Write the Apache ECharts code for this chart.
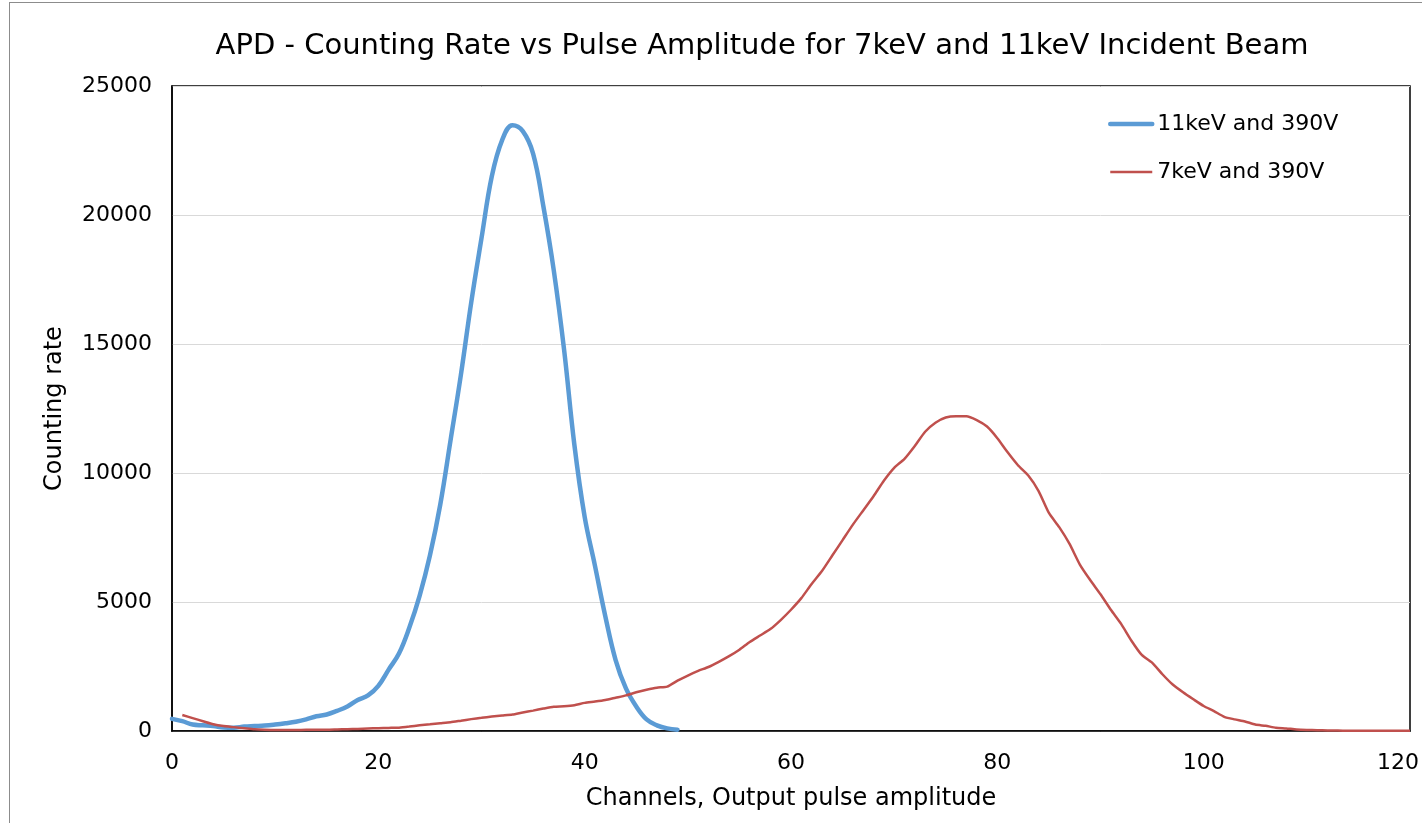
<!DOCTYPE html>
<html>
<head>
<meta charset="utf-8">
<script src="https://cdn.jsdelivr.net/npm/echarts@6/dist/echarts.min.js"></script>
<style>
  html, body { margin: 0; padding: 0; background: #fff; }
  #frame { position: absolute; left: 9px; top: 2px; width: 1413px; height: 821px;
           border-top: 1px solid #8c8c8c; border-left: 1px solid #8c8c8c; box-sizing: border-box; }
  #chart { position: absolute; left: 0; top: 0; width: 1422px; height: 823px; }
</style>
</head>
<body>
<div id="frame"></div>
<div id="chart"></div>
<script>
  // 11keV, channels 0..49
  const start11 = 0
  const rate11 = [
    470, 380, 250, 220, 190, 140, 130, 170, 190, 210,
    250, 300, 360, 450, 570, 640, 780, 950, 1200, 1380,
    1750, 2380, 3000, 4000, 5240, 6800, 8770, 11270, 13800, 16600,
    19100, 21500, 22900, 23480, 23250, 22380, 20330, 17870, 14800, 11100,
    8300, 6400, 4450, 2750, 1650, 950, 450, 220, 100, 50
  ]
  // 7keV, channels 1..120
  const start7 = 1
  const rate7 = [
    620, 500, 380, 260, 190, 150, 110, 70, 50, 40,
    40, 40, 45, 50, 50, 60, 70, 80, 95, 110,
    120, 130, 170, 220, 260, 300, 340, 400, 460, 510,
    560, 600, 640, 720, 790, 870, 940, 960, 1000, 1090,
    1140, 1200, 1290, 1380, 1500, 1600, 1680, 1720, 1950, 2150,
    2330, 2480, 2680, 2900, 3150, 3450, 3700, 3950, 4300, 4700,
    5150, 5700, 6200, 6800, 7400, 8000, 8550, 9100, 9700, 10200,
    10550, 11050, 11600, 11950, 12150, 12200, 12200, 12050, 11800, 11350,
    10800, 10300, 9900, 9300, 8450, 7900, 7250, 6450, 5850, 5300,
    4700, 4150, 3500, 2950, 2650, 2200, 1800, 1500, 1230, 970,
    770, 550, 450, 370, 250, 200, 130, 100, 60, 40,
    30, 20, 15, 10, 10, 5, 5, 5, 5, 5
  ]
  const xTicks = [0, 20, 40, 60, 80, 100, 120]
  const yTicks = [0, 5000, 10000, 15000, 20000, 25000]

  const font = 'Verdana, "DejaVu Sans", sans-serif'

  function toPairs(start, values) {
    return values.map((v, i) => [start + i, v])
  }

  const xMax = xTicks[xTicks.length - 1]

  const chart = echarts.init(document.getElementById('chart'))
  const option = {
    animation: false,
    textStyle: {fontFamily: font},
    title: {
      text: 'APD - Counting Rate vs Pulse Amplitude for 7keV and 11keV Incident Beam',
      left: 757,
      top: 27,
      textAlign: 'center',
      textStyle: {fontFamily: font, fontSize: 29, fontWeight: 'normal', color: '#000'}
    },
    grid: {
      left: 172,
      right: 12,
      top: 86,
      bottom: 92,
      outerBoundsMode: 'none',
      show: true,
      borderColor: '#000',
      borderWidth: 1.5
    },
    legend: {
      orient: 'vertical',
      left: 1108,
      top: 113,
      padding: 0,
      itemGap: 26,
      itemWidth: 42,
      itemHeight: 4,
      itemStyle: {opacity: 0},
      textStyle: {fontFamily: font, fontSize: 22, color: '#000'},
      data: [
        {name: '11keV and 390V', lineStyle: {width: 4.5, cap: 'round'}},
        {name: '7keV and 390V', lineStyle: {width: 2.5}}
      ]
    },
    xAxis: {
      type: 'value',
      min: xTicks[0],
      max: xMax,
      interval: 20,
      name: 'Channels, Output pulse amplitude',
      nameLocation: 'center',
      nameGap: 56,
      nameTextStyle: {fontFamily: font, fontSize: 24, color: '#000'},
      axisLine: {lineStyle: {color: '#000', width: 1.5}},
      axisTick: {show: false},
      splitLine: {show: false},
      axisLabel: {
        fontSize: 22, color: '#000', margin: 21,
        formatter: v => v === xMax ? '{m|' + v + '}' : String(v),
        rich: {m: {fontSize: 22, color: '#000', padding: [0, 24, 0, 0]}}
      }
    },
    yAxis: {
      type: 'value',
      min: yTicks[0],
      max: yTicks[yTicks.length - 1],
      interval: 5000,
      name: 'Counting rate',
      nameLocation: 'center',
      nameGap: 105,
      nameTextStyle: {fontFamily: font, fontSize: 24, color: '#000'},
      axisLine: {show: true, lineStyle: {color: '#000', width: 1.5}},
      axisTick: {show: false},
      splitLine: {lineStyle: {color: '#d9d9d9', width: 1}},
      axisLabel: {fontSize: 22, color: '#000', margin: 20, formatter: v => String(v)}
    },
    series: [
      {
        name: '11keV and 390V',
        type: 'line',
        data: toPairs(start11, rate11),
        symbol: 'none',
        smooth: 0.4,
        lineStyle: {color: '#5b9bd5', width: 4.5, cap: 'round'},
        itemStyle: {color: '#5b9bd5'}
      },
      {
        name: '7keV and 390V',
        type: 'line',
        data: toPairs(start7, rate7),
        symbol: 'none',
        smooth: 0.2,
        lineStyle: {color: '#c0504d', width: 2.5},
        itemStyle: {color: '#c0504d'}
      }
    ]
  }
  chart.setOption(option)
</script>
</body>
</html>
